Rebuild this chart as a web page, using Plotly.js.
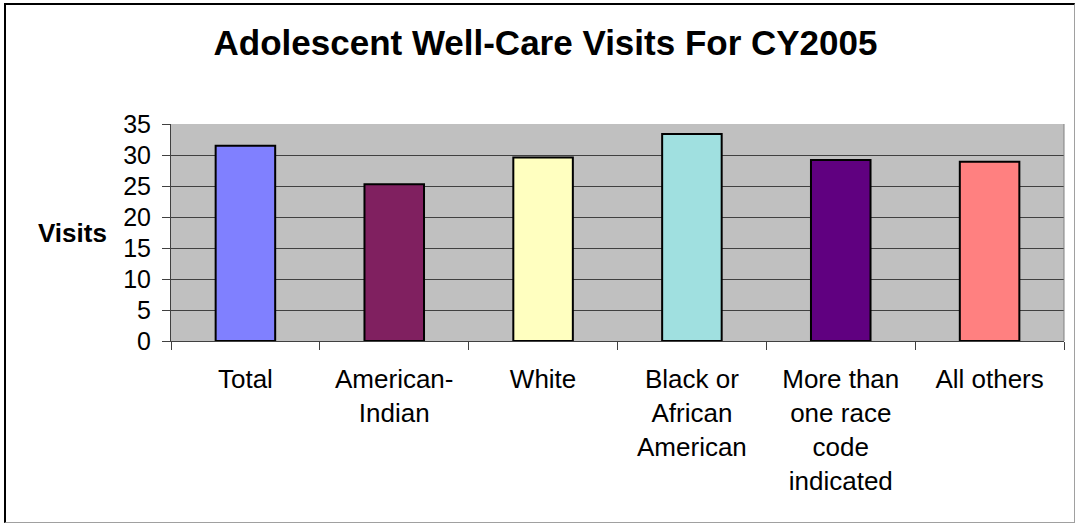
<!DOCTYPE html>
<html>
<head>
<meta charset="utf-8">
<script src="https://cdn.plot.ly/plotly-3.0.1.min.js"></script>
<style>
  html, body { margin: 0; padding: 0; background: #fff; }
  #wrap { position: relative; width: 1078px; height: 525px; }
  #chart { position: absolute; left: 0; top: 0; width: 1078px; height: 525px; }
  #frame { position: absolute; left: 4px; top: 3px; width: 1071px; height: 520px;
           border-left: 2px solid #000; border-top: 2px solid #000;
           border-right: 1px solid #a0a0a0; border-bottom: 1px solid #a0a0a0;
           pointer-events: none; box-sizing: border-box; }
</style>
</head>
<body>
<div id="wrap">
  <div id="chart"></div>
  <div id="frame"></div>
</div>
<script>
const categories = [
  "Total",
  "American-<br>Indian",
  "White",
  "Black or<br>African<br>American",
  "More than<br>one race<br>code<br>indicated",
  "All others"
];
const visits = [31.5, 25.3, 29.6, 33.4, 29.2, 28.9];
const barColors = ["#8080FF", "#802060", "#FFFFC0", "#A0E0E0", "#600080", "#FF8080"];
const yTickValues = [0, 5, 10, 15, 20, 25, 30, 35];
const chartTitle = "Adolescent Well-Care Visits For CY2005";
const yTitle = "Visits";

const fontFamily = "Arial, 'Liberation Sans', Helvetica, sans-serif";

const trace = {
  type: "bar",
  x: categories,
  y: visits,
  width: 0.4,
  marker: { color: barColors, line: { color: "#000000", width: 2 } },
  hoverinfo: "x+y"
};

const layout = {
  width: 1078,
  height: 525,
  margin: { l: 171, r: 14, t: 124, b: 184, pad: 0 },
  paper_bgcolor: "#FFFFFF",
  plot_bgcolor: "#C0C0C0",
  font: { family: fontFamily, color: "#000000", size: 26 },
  title: {
    text: "<b>" + chartTitle + "</b>",
    font: { family: fontFamily, size: 35, color: "#000000" },
    x: 545.5 / 1078, xref: "container", xanchor: "center",
    y: 1 - 43 / 525, yref: "container", yanchor: "middle"
  },
  showlegend: false,
  bargap: 0.6,
  xaxis: {
    type: "category",
    tickson: "boundaries",
    ticks: "outside",
    ticklen: 8,
    tickcolor: "#404040",
    tickwidth: 1,
    showline: true,
    linecolor: "#404040",
    linewidth: 1,
    showgrid: false,
    tickfont: { family: fontFamily, size: 26, color: "#000000" },
    ticklabelstandoff: 15,
    fixedrange: true
  },
  yaxis: {
    range: [0, 35],
    tickvals: yTickValues,
    ticktext: yTickValues.map(String),
    ticks: "outside",
    ticklen: 8,
    tickcolor: "#404040",
    tickwidth: 1,
    showline: true,
    linecolor: "#404040",
    linewidth: 1,
    mirror: false,
    showgrid: true,
    gridcolor: "#404040",
    gridwidth: 1,
    zeroline: false,
    tickfont: { family: fontFamily, size: 25, color: "#000000" },
    ticklabelstandoff: 6,
    fixedrange: true
  },
  shapes: [
    { type: "line", xref: "paper", yref: "paper", x0: 1, x1: 1, y0: 0, y1: 1,
      line: { color: "#808080", width: 1 } }
  ],
  annotations: [
    {
      text: "<b>" + yTitle + "</b>",
      xref: "paper", yref: "paper",
      x: (109 - 171) / 893, xanchor: "right",
      y: 0.5, yanchor: "middle",
      showarrow: false,
      font: { family: fontFamily, size: 26, color: "#000000" }
    }
  ]
};

Plotly.newPlot("chart", [trace], layout, { displayModeBar: false, staticPlot: true });
</script>
</body>
</html>
